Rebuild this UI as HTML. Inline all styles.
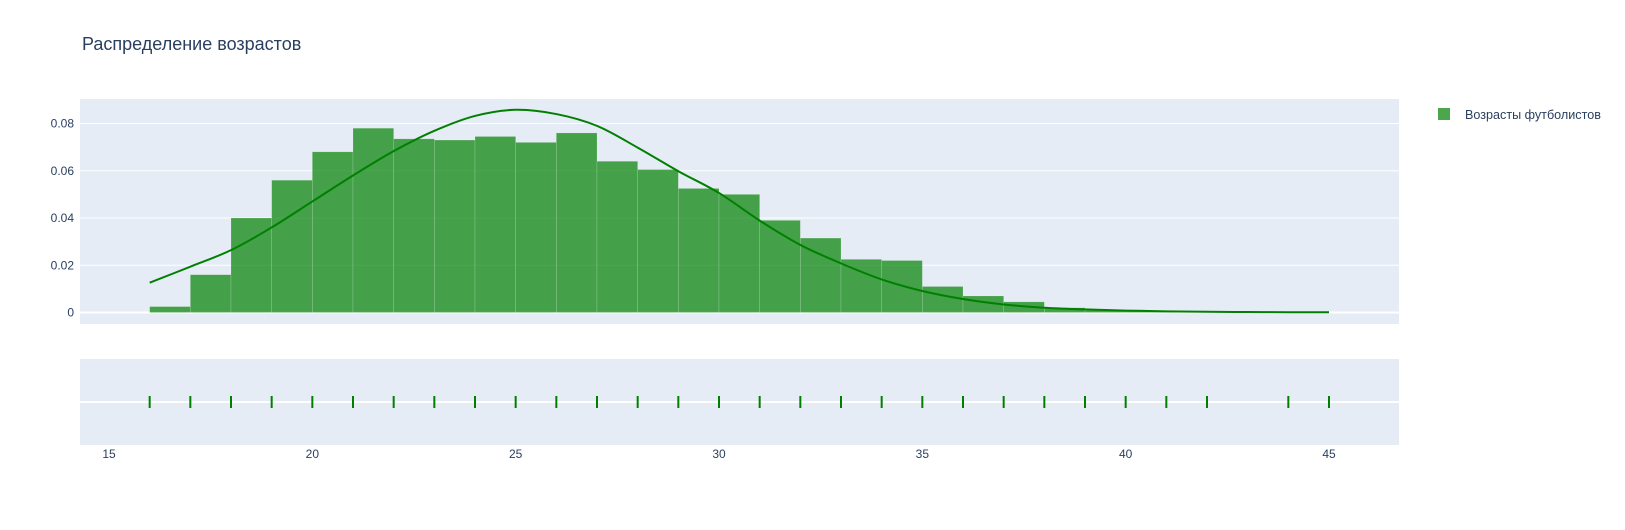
<!DOCTYPE html>
<html><head><meta charset="utf-8"><style>
body{margin:0;background:#fff;font-family:"Liberation Sans","DejaVu Sans",sans-serif}
svg text{font-family:"Liberation Sans","DejaVu Sans",sans-serif;fill:#2a3f5f}
</style></head><body>
<svg id="c" width="1625" height="525" xmlns="http://www.w3.org/2000/svg">
<text x="82" y="50" font-size="18">Распределение возрастов</text>
<rect x="80" y="99" width="1319" height="225" fill="#e5ecf6"/>
<rect x="80" y="359" width="1319" height="86" fill="#e5ecf6"/>
<g id="grid"></g><g id="bars"></g><g id="curve"></g><g id="rug"></g><g id="labels"></g>
<rect x="1438" y="108" width="12" height="12" fill="#008000" fill-opacity="0.7"/>
<text x="1465" y="119" font-size="12.6">Возрасты футболистов</text>
</svg>
<script>
const binStarts=[16,17,18,19,20,21,22,23,24,25,26,27,28,29,30,31,32,33,34,35,36,37,38,39,40,41,42];
const density=[0.0025,0.016,0.040,0.056,0.068,0.078,0.0735,0.073,0.0745,0.072,0.076,0.064,0.0605,0.0525,0.050,0.039,0.0315,0.0225,0.022,0.011,0.007,0.0045,0.002,0.001,0.0005,0.0003,0.0002];
const curveX=[16,17,18,19,20,21,22,23,24,25,26,27,28,29,30,31,32,33,34,35,36,37,38,39,40,41,42,43,44,45];
const curveY=[0.0126,0.0194,0.0264,0.036,0.047,0.058,0.0683,0.0769,0.0832,0.0858,0.084,0.079,0.0698,0.0598,0.0506,0.0389,0.0286,0.0208,0.014,0.0091,0.0057,0.0034,0.002,0.0013,0.0008,0.0005,0.0003,0.0002,0.0001,0.0001];
const rugX=[16,17,18,19,20,21,22,23,24,25,26,27,28,29,30,31,32,33,34,35,36,37,38,39,40,41,42,44,45];
const yTicks=[0,0.02,0.04,0.06,0.08];
const yTickLabels=["0","0.02","0.04","0.06","0.08"];
const xTicks=[15,20,25,30,35,40,45];
const NS="http://www.w3.org/2000/svg";
const X=v=>109+(v-15)*(1329-109)/30;
const Y=v=>312.5-v*(312.5-123.5)/0.08;
function mk(tag,attrs,parent){const e=document.createElementNS(NS,tag);for(const k in attrs)e.setAttribute(k,attrs[k]);document.getElementById(parent).appendChild(e);return e;}
yTicks.forEach((t,i)=>{
 const l=mk('line',{x1:80,x2:1399,y1:Y(t),y2:Y(t),stroke:'#fff','stroke-width':t===0?2:1},'grid');
 
 
 const tx=mk('text',{x:74,y:Y(t)+4,'font-size':12,'text-anchor':'end'},'labels');
 tx.textContent=yTickLabels[i];
 
 
});
const rl=mk('line',{x1:80,x2:1399,y1:402,y2:402,stroke:'#fff','stroke-width':2},'grid');


binStarts.forEach((b,i)=>{
 const r=mk('rect',{x:X(b),y:Y(density[i]),width:X(b+1)-X(b),height:Y(0)-Y(density[i]),fill:'#008000','fill-opacity':0.7,stroke:'rgba(255,255,255,0.3)','stroke-width':0.5},'bars');
 
 
});
const pts=curveX.map((x,i)=>[X(x),Y(curveY[i])]);
let d='M'+pts[0][0]+','+pts[0][1];
for(let i=0;i<pts.length-1;i++){
 const p0=pts[Math.max(0,i-1)],p1=pts[i],p2=pts[i+1],p3=pts[Math.min(pts.length-1,i+2)];
 const c1=[p1[0]+(p2[0]-p0[0])/6,p1[1]+(p2[1]-p0[1])/6];
 const c2=[p2[0]-(p3[0]-p1[0])/6,p2[1]-(p3[1]-p1[1])/6];
 d+=' C'+c1[0]+','+c1[1]+' '+c2[0]+','+c2[1]+' '+p2[0]+','+p2[1];
}
const p=mk('path',{d:d,fill:'none',stroke:'#008000','stroke-width':2},'curve');


rugX.forEach(x=>{
 const l=mk('line',{x1:X(x),x2:X(x),y1:396,y2:408,stroke:'#008000','stroke-width':2},'rug');
 
 
});
xTicks.forEach(t=>{
 const tx=mk('text',{x:X(t),y:458,'font-size':12,'text-anchor':'middle'},'labels');
 tx.textContent=t;
 
 
});
</script>
</body></html>
